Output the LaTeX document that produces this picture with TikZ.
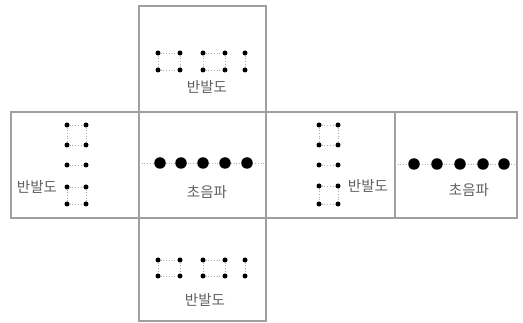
\documentclass[tikz,border=0pt]{standalone}
\usepackage{fontspec}
\newfontfamily\kr{Noto Sans CJK KR}
\begin{document}
\begin{tikzpicture}[x=1pt,y=-1pt,
 panel/.style={draw=gray!75, line width=1.3pt, inner sep=0pt, outer sep=0pt, minimum height=106pt},
 sdot/.style={circle, fill=black, inner sep=0pt, minimum size=5pt},
 bdot/.style={circle, fill=black, inner sep=0pt, minimum size=11.5pt},
 link/.style={draw=gray!65, dotted, line width=0.7pt},
 lbl/.style={font=\kr\fontsize{14.5}{15}\selectfont, text=gray!75!black, inner sep=0pt}]
\useasboundingbox (0,0) rectangle (523,323);
% panels
\node[panel, minimum width=127pt] (top) at (202.5,59) {};
\node[panel, minimum width=128pt] (left) at (75,165) {};
\node[panel, minimum width=127pt] (ctr) at (202.5,165) {};
\node[panel, minimum width=129pt] (rgt) at (330.5,165) {};
\node[panel, minimum width=122pt] (far) at (456,165) {};
\node[panel, minimum width=127pt, minimum height=103pt] (bot) at (202.5,269.5) {};
% top lattice
\foreach \i/\x in {1/158,2/180,3/203,4/225,5/245}{
  \node[sdot] (ta\i) at (\x,53) {};
  \node[sdot] (tb\i) at (\x,70) {};
}
\draw[link] (ta1)--(ta2) (tb1)--(tb2) (ta1)--(tb1) (ta2)--(tb2)
            (ta3)--(ta4) (tb3)--(tb4) (ta3)--(tb3) (ta4)--(tb4) (ta5)--(tb5);
% bottom lattice
\foreach \i/\x in {1/158,2/180,3/203,4/225,5/245}{
  \node[sdot] (ba\i) at (\x,260) {};
  \node[sdot] (bb\i) at (\x,276) {};
}
\draw[link] (ba1)--(ba2) (bb1)--(bb2) (ba1)--(bb1) (ba2)--(bb2)
            (ba3)--(ba4) (bb3)--(bb4) (ba3)--(bb3) (ba4)--(bb4) (ba5)--(bb5);
% left lattice
\foreach \i/\y in {1/125,2/145,3/165,4/187,5/204}{
  \node[sdot] (ll\i) at (67,\y) {};
  \node[sdot] (lr\i) at (86,\y) {};
}
\draw[link] (ll1)--(lr1) (ll2)--(lr2) (ll1)--(ll2) (lr1)--(lr2) (ll3)--(lr3)
            (ll4)--(lr4) (ll5)--(lr5) (ll4)--(ll5) (lr4)--(lr5);
% right lattice
\foreach \i/\y in {1/125,2/145,3/165,4/186,5/204}{
  \node[sdot] (rl\i) at (319,\y) {};
  \node[sdot] (rr\i) at (338,\y) {};
}
\draw[link] (rl1)--(rr1) (rl2)--(rr2) (rl1)--(rl2) (rr1)--(rr2) (rl3)--(rr3)
            (rl4)--(rr4) (rl5)--(rr5) (rl4)--(rl5) (rr4)--(rr5);
% centre big dots
\coordinate (cw) at (139,163);
\coordinate (ce) at (266,163);
\draw[link] (cw)--(ce);
\foreach \i/\x in {1/160,2/181,3/203,4/225,5/247}{
  \node[bdot] (c\i) at (\x,163) {};
}
% far big dots
\coordinate (fw) at (395,164);
\coordinate (fe) at (517,164);
\draw[link] (fw)--(fe);
\foreach \i/\x in {1/414,2/437,3/460,4/483,5/504}{
  \node[bdot] (f\i) at (\x,164) {};
}
% labels
\node[lbl] (ltop) at (207,87) {반발도};
\node[lbl] (lleft) at (37,187) {반발도};
\node[lbl] (lrgt) at (368,186) {반발도};
\node[lbl] (lctr) at (207,192) {초음파};
\node[lbl] (lfar) at (469,190) {초음파};
\node[lbl] (lbot) at (205,300) {반발도};
\end{tikzpicture}
\end{document}
